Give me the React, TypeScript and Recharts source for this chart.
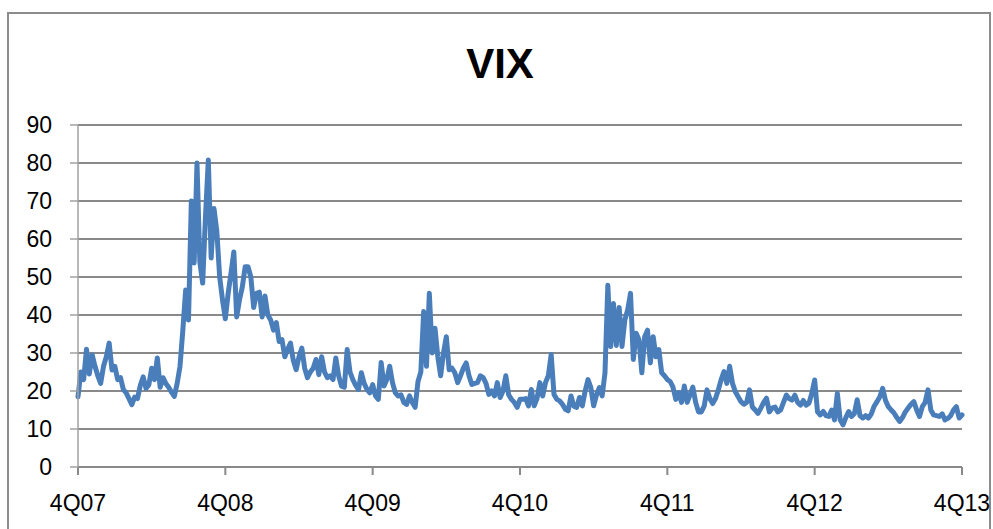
import { LineChart, Line, XAxis, YAxis, CartesianGrid } from 'recharts';

// weekly VIX readings, 4Q07 -> 4Q13 (13 weeks per row)
const vixWeekly: number[] = [
  18.5, 25, 23, 31, 24.5, 29.5, 26.5, 24, 22, 26.5, 29, 32.6, 25.5,
  26.5, 23, 23.5, 20.4, 19.5, 18, 16.4, 18.4, 18, 21.5, 23.7, 20.7, 21.6,
  26, 23, 28.7, 21, 23.5, 22, 21, 19.7, 18.6, 22, 26.5, 36, 46.6,
  38.7, 70, 53.7, 80, 54, 48.4, 66, 80.8, 55, 68, 62, 50, 44,
  39, 45.7, 51, 56.6, 39.5, 44, 47.4, 52.7, 52.7, 50, 42, 45.7, 46,
  39.5, 45, 40, 38.7, 36, 38, 33, 33.5, 29, 31, 32.6, 28, 25.6,
  29, 31.3, 26, 23.5, 25, 26, 28.3, 24.3, 29, 25, 23.5, 24, 23,
  28.7, 24, 21.3, 21, 30.9, 25, 23, 21.5, 20.4, 24.8, 22, 20.4, 19.5,
  21.7, 18.7, 17.8, 27.5, 21.3, 23, 26.5, 22.2, 19.5, 18.7, 19, 17, 16.5,
  18.7, 17, 15.7, 22.5, 25, 40.9, 26.5, 45.7, 30, 36.5, 29, 24, 30,
  34.3, 25.6, 26, 24.8, 22.2, 24, 26, 27.4, 24, 21.7, 22, 22.2, 24,
  23.5, 22, 19.1, 20, 18.7, 22.2, 18.3, 20, 24, 19, 17.8, 17, 15.7,
  17.8, 17.8, 18, 16.1, 20.4, 16.1, 18, 22.2, 18.7, 22.2, 24, 29.6, 19.1,
  17.8, 17.4, 16.5, 15.2, 14.8, 18.7, 16, 15.7, 18.3, 16.1, 20, 23, 20.9,
  16.1, 19, 20.9, 18.7, 24.8, 47.8, 31.7, 43, 32, 42, 31.7, 38.7, 41.3,
  45.7, 28.3, 35.2, 33.5, 24.8, 34.3, 36, 27.4, 34.3, 29, 30.9, 24.8, 24,
  23, 22.5, 21, 17.8, 19.6, 17, 21.3, 17, 19, 21, 17, 14.5, 14.5,
  16, 20.3, 18, 16.7, 18, 20.3, 23, 25.1, 22, 26.5, 22, 19.8, 18.5,
  17.2, 16.5, 17, 20.3, 15.8, 15, 14.1, 15.5, 17, 18.1, 14.5, 15.5, 15.8,
  14.5, 15, 17, 18.9, 18, 17.6, 18.9, 17, 16.3, 17.5, 16.3, 16.8, 19.4,
  22.9, 14.5, 13.7, 14.6, 13.5, 13.3, 15, 12.4, 19.4, 12.4, 11.1, 13, 14.6,
  13.3, 14, 17.7, 13.5, 12.9, 13.5, 12.9, 14, 16, 17.2, 18.5, 20.7, 17.5,
  15.9, 15, 14.2, 13, 12, 13, 14.5, 15.5, 16.5, 17.2, 15, 13.3, 15.9,
  17, 20.3, 15, 13.7, 13.5, 13.3, 14, 12.4, 12.8, 13.5, 15, 15.9, 12.9,
  13.7,
];

const quarterLabels = ['4Q07', '4Q08', '4Q09', '4Q10', '4Q11', '4Q12', '4Q13'];
const quarterWeeks = [0, 52, 104, 156, 208, 260, 312];
const yTicks = [0, 10, 20, 30, 40, 50, 60, 70, 80, 90];

const data = vixWeekly.map((v, i) => ({ week: i, vix: v }));

const FONT = '"Liberation Sans", Arial, sans-serif';
const GRID = '#898989';

export default function App() {
  return (
    <div style={{ position: 'absolute', left: 0, top: 0, width: 993, height: 529, overflow: 'hidden', background: '#fff' }}>
      <div
        style={{
          position: 'absolute',
          left: 7,
          top: 12,
          width: 984,
          height: 560,
          border: '2px solid #8c8c8c',
          boxSizing: 'border-box',
        }}
      />
      <div
        style={{
          position: 'absolute',
          left: 400,
          top: 43,
          width: 200,
          textAlign: 'center',
          fontFamily: FONT,
          fontWeight: 'bold',
          fontSize: 42,
          lineHeight: '42px',
          color: '#000',
        }}
      >
        VIX
      </div>
      <div style={{ position: 'absolute', left: 0, top: 0 }}>
        <LineChart width={993} height={529} data={data} margin={{ top: 125, right: 31, bottom: 0, left: 0 }}>
          <CartesianGrid vertical={false} stroke={GRID} strokeWidth={2} />
          <XAxis
            dataKey="week"
            type="number"
            domain={[0, 312]}
            ticks={quarterWeeks}
            interval={0}
            tickFormatter={(w: number) => quarterLabels[quarterWeeks.indexOf(w)]}
            height={62}
            tickSize={8}
            tickMargin={20}
            stroke={GRID}
            strokeWidth={2}
            tick={{ fill: '#000', fontSize: 23, fontFamily: FONT }}
          />
          <YAxis
            type="number"
            domain={[0, 90]}
            ticks={yTicks}
            interval={0}
            width={78}
            tickSize={8}
            tickMargin={18}
            stroke="#a0a0a0"
            strokeWidth={1.5}
            tick={{ fill: '#000', fontSize: 23, fontFamily: FONT }}
          />
          <Line
            type="linear"
            dataKey="vix"
            stroke="#4a7ebb"
            strokeWidth={5}
            strokeLinejoin="round"
            strokeLinecap="round"
            dot={false}
            isAnimationActive={false}
          />
        </LineChart>
      </div>
    </div>
  );
}
